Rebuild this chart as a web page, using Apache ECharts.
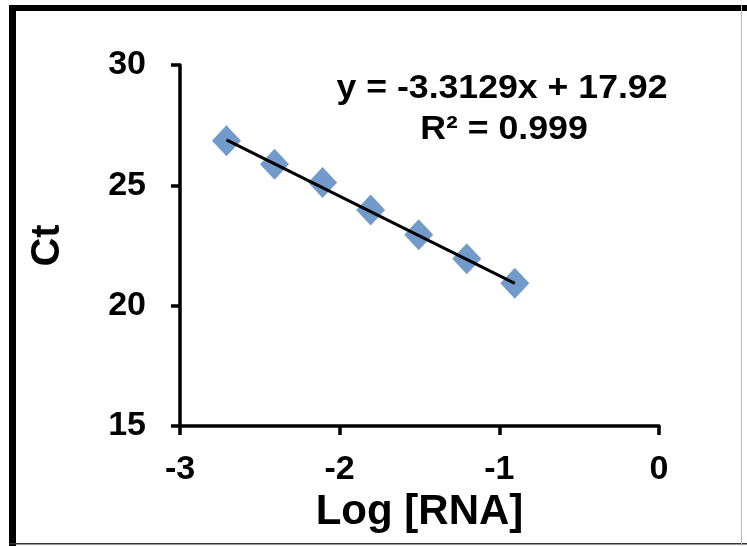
<!DOCTYPE html>
<html>
<head>
<meta charset="utf-8">
<script src="https://cdn.jsdelivr.net/npm/echarts@6/dist/echarts.min.js"></script>
<style>html,body{margin:0;padding:0;background:#fff;}#c{width:747px;height:546px;}</style>
</head>
<body>
<div id="c"></div>
<script>
// Data
const logRNA = [-2.709, -2.408, -2.107, -1.806, -1.505, -1.204, -0.903];
const ctValues = [26.85, 25.88, 25.12, 23.98, 22.95, 21.95, 20.93];
const trendX = [-2.709, -0.903];
const trendY = [26.89, 20.93];
const xTicks = [-3, -2, -1, 0];
const yTicks = [15, 20, 25, 30];
const equationText = 'y = -3.3129x + 17.92';
const r2Text = 'R² = 0.999';

const FONT = '"Liberation Sans", Arial, sans-serif';
const chart = echarts.init(document.getElementById('c'), null, {renderer: 'canvas'});

const points = logRNA.map((x, i) => [x, ctValues[i]]);
const trend = trendX.map((x, i) => [x, trendY[i]]);

chart.setOption({
  animation: false,
  backgroundColor: '#ffffff',
  grid: {left: 180, right: 88, top: 65, bottom: 120, containLabel: false},
  xAxis: {
    type: 'value',
    min: xTicks[0], max: xTicks[xTicks.length - 1], interval: 1,
    name: 'Log [RNA]', nameLocation: 'middle', nameGap: 64,
    nameTextStyle: {fontFamily: FONT, fontWeight: 'bold', fontSize: 42, color: '#000'},
    axisLine: {show: true, onZero: false, lineStyle: {color: '#000', width: 3.5}},
    axisTick: {show: true, length: 9, lineStyle: {color: '#000', width: 3.5}},
    axisLabel: {fontFamily: FONT, fontWeight: 'bold', fontSize: 34, color: '#000', margin: 27},
    splitLine: {show: false}
  },
  yAxis: {
    type: 'value',
    min: yTicks[0], max: yTicks[yTicks.length - 1], interval: 5,
    name: 'Ct', nameLocation: 'middle', nameGap: 112, nameRotate: 90,
    nameTextStyle: {fontFamily: FONT, fontWeight: 'bold', fontSize: 40, color: '#000'},
    axisLine: {show: true, onZero: false, lineStyle: {color: '#000', width: 3.5}},
    axisTick: {show: true, length: 9, lineStyle: {color: '#000', width: 3.5}},
    axisLabel: {fontFamily: FONT, fontWeight: 'bold', fontSize: 34, color: '#000', margin: 34},
    splitLine: {show: false}
  },
  series: [
    {
      type: 'scatter',
      data: points,
      symbol: 'diamond',
      symbolSize: [29, 31],
      itemStyle: {color: '#4F81BD'},
      z: 2
    },
    {
      type: 'line',
      data: trend,
      showSymbol: false,
      symbol: 'none',
      lineStyle: {color: '#000', width: 3},
      z: 3
    }
  ],
  graphic: [
    {type: 'rect', left: 9, top: 5, shape: {width: 7, height: 541}, style: {fill: '#000'}, z: 10},
    {type: 'rect', left: 9, top: 5, shape: {width: 738, height: 6}, style: {fill: '#000'}, z: 10},
    {type: 'rect', left: 9, top: 543, shape: {width: 738, height: 1.5}, style: {fill: '#333'}, z: 10},
    {type: 'rect', left: 741, top: 5, shape: {width: 1, height: 541}, style: {fill: '#bbb'}, z: 10},
    {type: 'text', x: 502, y: 89, scaleX: 1.15, scaleY: 1.05,
     style: {text: equationText, x: 0, y: 0, textAlign: 'center', textVerticalAlign: 'middle',
             font: 'bold 31px ' + FONT, fill: '#000'}, z: 10},
    {type: 'text', x: 504, y: 130, scaleX: 1.15, scaleY: 1.05,
     style: {text: r2Text, x: 0, y: 0, textAlign: 'center', textVerticalAlign: 'middle',
             font: 'bold 31px ' + FONT, fill: '#000'}, z: 10}
  ]
});
</script>
</body>
</html>
